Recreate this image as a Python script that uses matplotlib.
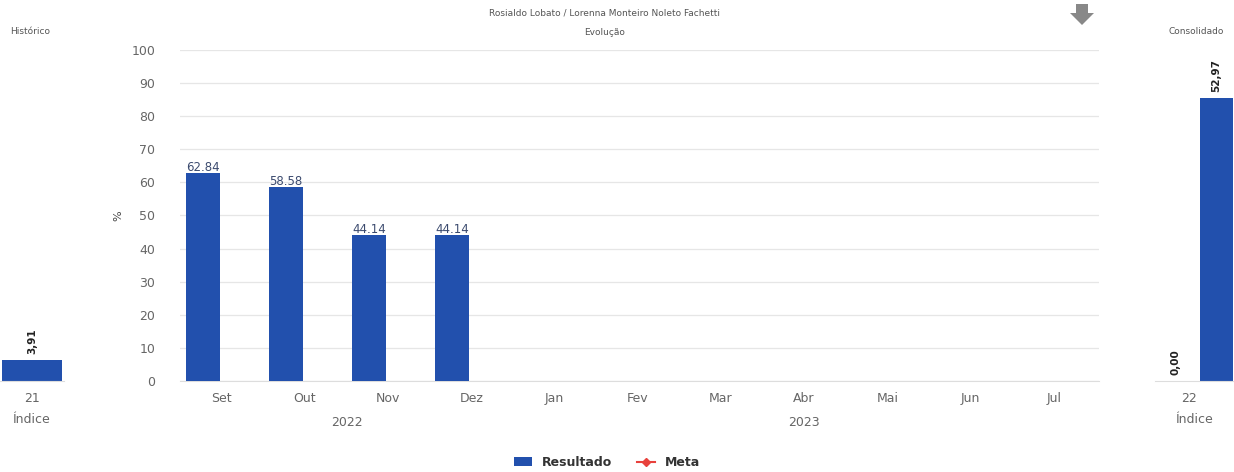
import numpy as np
import matplotlib
matplotlib.use('Agg')
import matplotlib.pyplot as plt
from matplotlib.lines import Line2D
from matplotlib.patches import Patch, Polygon

meses = ['Set', 'Out', 'Nov', 'Dez', 'Jan', 'Fev', 'Mar', 'Abr', 'Mai', 'Jun', 'Jul']
anos = ['2022', '2023']
resultado = [62.84, 58.58, 44.14, 44.14, np.nan, np.nan, np.nan, np.nan, np.nan, np.nan, np.nan]
meta = [np.nan] * 11
hist_valor = 3.91
hist_label = '21'
cons_resultado = 52.97
cons_meta = 0.00
cons_label = '22'

azul = '#2250ad'
cinza = '#666666'
grade = '#e6e6e6'

fig = plt.figure(figsize=(12.34, 4.72), dpi=100)

# grafico principal
ax = fig.add_axes([0.146, 0.193, 0.745, 0.701])
x = np.arange(len(meses))
xb = x - 0.23  # barra deslocada (grupo com Meta)
ax.bar(xb, resultado, width=0.41, color=azul, zorder=3)
ax.plot(x + 0.21, meta, color='#e8413c', marker='D', zorder=4)
for xi, v in zip(xb, resultado):
    if not np.isnan(v):
        ax.text(xi, v - 0.4, f'{v:.2f}', ha='center', va='bottom', fontsize=8.5, color='#3b4a6e', zorder=5)
ax.set_ylim(0, 100)
ax.set_xlim(-0.5, 10.55)
ax.set_yticks(range(0, 101, 10))
ax.set_xticks(x)
ax.set_xticklabels(meses)
ax.tick_params(axis='both', length=0, labelsize=9, labelcolor=cinza)
ax.tick_params(axis='y', pad=18)
ax.tick_params(axis='x', pad=8)
ax.grid(axis='y', color=grade, linewidth=0.9, zorder=0)
for s in ['top', 'right', 'left']:
    ax.spines[s].set_visible(False)
ax.spines['bottom'].set_color('#dddddd')
ax.set_ylabel('%', fontsize=8, color='#444444', labelpad=6)
ax.text(1.5, -0.105, anos[0], transform=ax.get_xaxis_transform(), ha='center', va='top', fontsize=9, color=cinza)
ax.text(7.0, -0.105, anos[1], transform=ax.get_xaxis_transform(), ha='center', va='top', fontsize=9, color=cinza)

fig.text(0.49, 0.972, 'Rosialdo Lobato / Lorenna Monteiro Noleto Fachetti', ha='center', va='center', fontsize=6.5, color='#555555')
fig.text(0.49, 0.932, 'Evolução', ha='center', va='center', fontsize=6.5, color='#555555')

# seta
pts = [(1076, 4), (1088, 4), (1088, 13), (1094, 13), (1082, 25), (1070, 13), (1076, 13)]
seta = Polygon([(px / 1234, 1 - py / 472) for px, py in pts], closed=True, transform=fig.transFigure,
               facecolor='#888888', edgecolor='none')
fig.patches.append(seta)

# historico
axh = fig.add_axes([0.0, 0.193, 64 / 1234, 0.701])
axh.bar([0], [hist_valor], width=0.94, color=azul)
axh.text(0, hist_valor + 1.2, f'{hist_valor:.2f}'.replace('.', ','), rotation=90, ha='center', va='bottom',
         fontsize=7.5, fontweight='bold', color='#222222')
axh.set_ylim(0, 62)
axh.set_xlim(-0.5, 0.5)
axh.set_xticks([0])
axh.set_xticklabels([hist_label])
axh.set_yticks([])
axh.tick_params(axis='x', length=0, labelsize=9, labelcolor=cinza, pad=8)
axh.set_xlabel('Índice', fontsize=9, color=cinza, labelpad=6)
for s in ['top', 'right', 'left']:
    axh.spines[s].set_visible(False)
axh.spines['bottom'].set_color('#dddddd')
fig.text(30 / 1234, 1 - 31 / 472, 'Histórico', ha='center', va='center', fontsize=6.5, color='#555555')

# consolidado
axc = fig.add_axes([1155 / 1234, 0.193, 79 / 1234, 0.701])
axc.bar([0.22], [cons_resultado], width=0.35, color=azul)
axc.bar([-0.22], [cons_meta], width=0.35, color='#e8413c')
axc.text(0.22, cons_resultado + 1.2, f'{cons_resultado:.2f}'.replace('.', ','), rotation=90, ha='center',
         va='bottom', fontsize=7.5, fontweight='bold', color='#222222')
axc.text(-0.22, cons_meta + 1.2, f'{cons_meta:.2f}'.replace('.', ','), rotation=90, ha='center',
         va='bottom', fontsize=7.5, fontweight='bold', color='#222222')
axc.set_ylim(0, 62)
axc.set_xlim(-0.435, 0.41)
axc.set_xticks([-0.07])
axc.set_xticklabels([cons_label])
axc.set_yticks([])
axc.tick_params(axis='x', length=0, labelsize=9, labelcolor=cinza, pad=8)
axc.set_xlabel('Índice', fontsize=9, color=cinza, labelpad=6)
for s in ['top', 'right', 'left']:
    axc.spines[s].set_visible(False)
axc.spines['bottom'].set_color('#dddddd')
fig.text(1196 / 1234, 1 - 31 / 472, 'Consolidado', ha='center', va='center', fontsize=6.5, color='#555555')

# legenda
handles = [Patch(facecolor=azul, label='Resultado'),
           Line2D([0], [0], color='#e8413c', marker='D', markersize=4, label='Meta')]
leg = fig.legend(handles=handles, loc='center', bbox_to_anchor=(0.492, 0.02), ncol=2, frameon=False,
                 prop={'weight': 'bold', 'size': 9}, handlelength=1.4, columnspacing=2)
for t in leg.get_texts():
    t.set_color('#333333')

fig.savefig('out.png', dpi=100)
